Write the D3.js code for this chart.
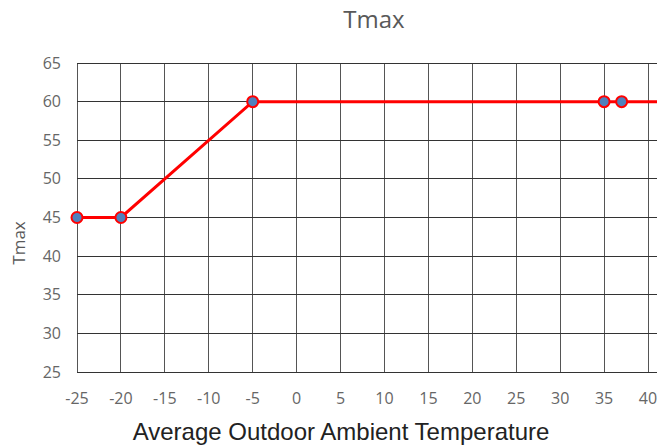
<!DOCTYPE html>
<html><head><meta charset="utf-8">
<script src="https://cdn.jsdelivr.net/npm/d3@7"></script>
<style>body{margin:0;background:#fff;overflow:hidden}</style>
</head><body>
<svg id="c" width="657" height="445"></svg>
<script>
const xVals = [-25, -20, -5, 35, 37, 45];
const yVals = [45, 45, 60, 60, 60, 60];
const markerCount = 5;
const xTicks = [-25, -20, -15, -10, -5, 0, 5, 10, 15, 20, 25, 30, 35, 40, 45];
const yTicks = [25, 30, 35, 40, 45, 50, 55, 60, 65];
const title = "Tmax";
const xTitle = "Average Outdoor Ambient Temperature";
const yTitle = "Tmax";

const svg = d3.select("#c");
const x = d3.scaleLinear().domain([-25, 40]).range([77, 648]);
const y = d3.scaleLinear().domain([25, 65]).range([372, 63]);
const xEnd = x(45);

// grid
svg.append("g").selectAll("line").data(xTicks).join("line")
  .attr("x1", d => x(d)).attr("x2", d => x(d))
  .attr("y1", y(65)).attr("y2", y(25))
  .attr("stroke", "#555").attr("stroke-width", 1).attr("shape-rendering", "crispEdges");
svg.append("g").selectAll("line").data(yTicks).join("line")
  .attr("x1", x(-25)).attr("x2", xEnd)
  .attr("y1", d => y(d)).attr("y2", d => y(d))
  .attr("stroke", "#333").attr("stroke-width", 1).attr("shape-rendering", "crispEdges");

// tick labels
const tickFont = "'Open Sans', 'Noto Sans', sans-serif";
svg.append("g").selectAll("text").data(yTicks).join("text")
  .attr("x", 61).attr("y", d => y(d)).attr("dy", "0.35em")
  .attr("text-anchor", "end").attr("fill", "#666")
  .style("font-family", tickFont).style("font-size", "16px")
  .text(d => d);
svg.append("g").selectAll("text").data(xTicks.filter(d => d <= 40)).join("text")
  .attr("x", d => x(d)).attr("y", 398).attr("dy", "0.35em")
  .attr("text-anchor", "middle").attr("fill", "#666")
  .style("font-family", tickFont).style("font-size", "16px")
  .text(d => d);

// line
const pts = xVals.map((d, i) => [d, yVals[i]]);
svg.append("path").datum(pts)
  .attr("d", d3.line().x(d => x(d[0])).y(d => y(d[1])))
  .attr("fill", "none").attr("stroke", "#ff0000").attr("stroke-width", 3);
svg.append("g").selectAll("circle").data(pts.slice(0, markerCount)).join("circle")
  .attr("cx", d => x(d[0])).attr("cy", d => y(d[1])).attr("r", 5.5)
  .attr("fill", "#4f81bd").attr("stroke", "#ff0000").attr("stroke-width", 2);

// titles
svg.append("text").attr("x", 374).attr("y", 28).attr("text-anchor", "middle")
  .attr("fill", "#595959").style("font-family", tickFont).style("font-size", "24px").text(title);
svg.append("text").attr("x", 341).attr("y", 440).attr("text-anchor", "middle")
  .attr("fill", "#222").style("font-family", "'Liberation Sans', Arial, sans-serif").style("font-size", "24px").text(xTitle);
svg.append("text").attr("transform", "translate(25,243) rotate(-90)").attr("text-anchor", "middle")
  .attr("fill", "#595959").style("font-family", tickFont).style("font-size", "17px").text(yTitle);
</script>
</body></html>
